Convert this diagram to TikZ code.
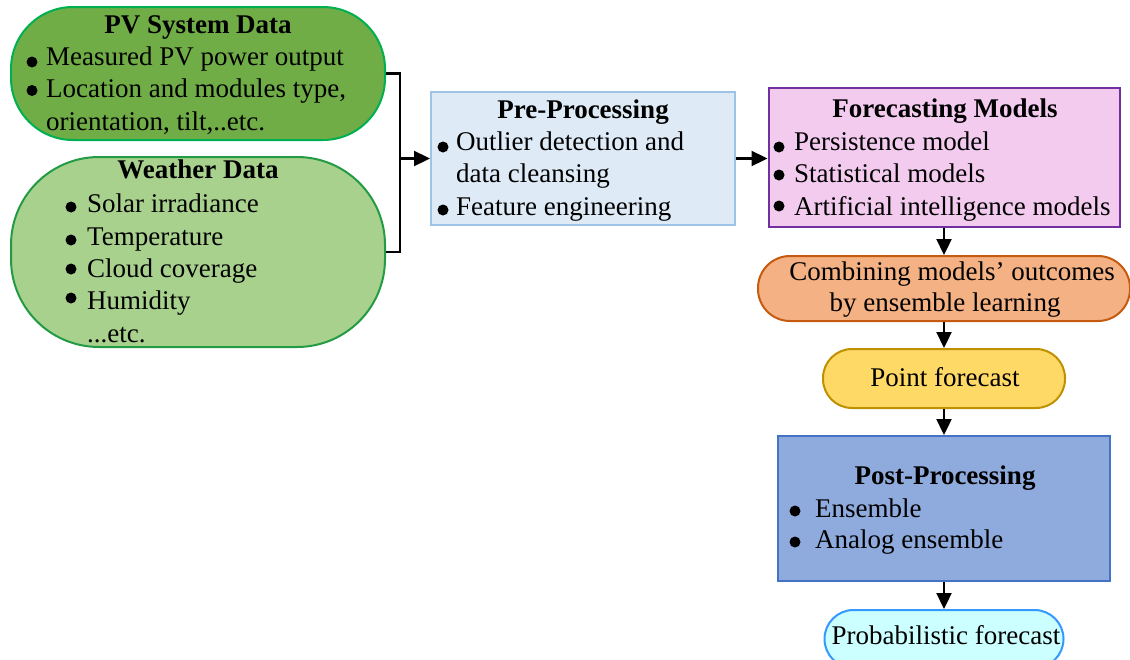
\documentclass[tikz,border=0pt]{standalone}
\usepackage{fontspec}
\setmainfont{Liberation Serif}
\usetikzlibrary{arrows.meta}
\definecolor{pvfill}{HTML}{70AD47}
\definecolor{pvdraw}{HTML}{00B050}
\definecolor{wxfill}{HTML}{A9D18E}
\definecolor{wxdraw}{HTML}{239B44}
\definecolor{prefill}{HTML}{DEEBF7}
\definecolor{predraw}{HTML}{9DC3E6}
\definecolor{fcfill}{HTML}{F3CBEF}
\definecolor{fcdraw}{HTML}{7030A0}
\definecolor{cbfill}{HTML}{F4B183}
\definecolor{cbdraw}{HTML}{C55A11}
\definecolor{ptfill}{HTML}{FFD966}
\definecolor{ptdraw}{HTML}{BF9000}
\definecolor{psfill}{HTML}{8FAADC}
\definecolor{psdraw}{HTML}{4472C4}
\definecolor{prfill}{HTML}{CCFFFF}
\definecolor{prdraw}{HTML}{3399FF}
\tikzset{
  box/.style={draw, line width=2pt, inner sep=0pt},
  tl/.style={anchor=base west, inner sep=0pt, font=\fontsize{27}{32}\selectfont},
  tc/.style={anchor=base, inner sep=0pt, font=\fontsize{27}{32}\selectfont},
  ttl/.style={anchor=base, inner sep=0pt, font=\fontsize{27}{32}\selectfont\bfseries},
  bul/.style={circle, fill=black, minimum size=11pt, inner sep=0pt},
  link/.style={line width=2.3pt, draw=black},
  arr/.style={line width=2.3pt, draw=black, -{Triangle[length=16pt, width=15pt]}}
}
\begin{document}
\begin{tikzpicture}[x=1pt, y=-1pt]
\useasboundingbox (0,0) rectangle (1130,659);
% boxes
\node[box, fill=pvfill, draw=pvdraw, minimum width=374pt, minimum height=133pt, rounded corners=62pt] (pv) at (198,73.5) {};
\node[box, fill=wxfill, draw=wxdraw, minimum width=374pt, minimum height=190pt, rounded corners=88pt] (wx) at (198,252) {};
\node[box, fill=prefill, draw=predraw, minimum width=304pt, minimum height=133pt] (pre) at (583,158.5) {};
\node[box, fill=fcfill, draw=fcdraw, minimum width=351pt, minimum height=139pt] (fc) at (944,157.5) {};
\node[box, fill=cbfill, draw=cbdraw, minimum width=372pt, minimum height=65pt, rounded corners=32pt] (cb) at (944,288.5) {};
\node[box, fill=ptfill, draw=ptdraw, minimum width=242pt, minimum height=59pt, rounded corners=29pt] (pt) at (944,378.5) {};
\node[box, fill=psfill, draw=psdraw, minimum width=332pt, minimum height=145pt] (ps) at (944,508.5) {};
\node[box, fill=prfill, draw=prdraw, minimum width=239pt, minimum height=58pt, rounded corners=29pt] (pr) at (944,639) {};
% PV text
\node[ttl] (pvt) at (198,33) {PV System Data};
\node[bul] (pvb1) at (32,62) {};
\node[bul] (pvb2) at (32,90.5) {};
\node[tl] (pv1) at (46,65) {Measured PV power output};
\node[tl] (pv2) at (46,97) {Location and modules type,};
\node[tl] (pv3) at (46,130) {orientation, tilt,..etc.};
% Weather text
\node[ttl] (wxt) at (198,178) {Weather Data};
\node[bul] (wxb1) at (71,207) {};
\node[bul] (wxb2) at (71,240) {};
\node[bul] (wxb3) at (71,269) {};
\node[bul] (wxb4) at (71,298) {};
\node[tl] (wx1) at (87,212) {Solar irradiance};
\node[tl] (wx2) at (87,245) {Temperature};
\node[tl] (wx3) at (87,277) {Cloud coverage};
\node[tl] (wx4) at (87,309) {Humidity};
\node[tl] (wx5) at (87,342) {...etc.};
% Pre-processing text
\node[ttl] (pret) at (583,118) {Pre-Processing};
\node[bul] (preb1) at (443,147) {};
\node[bul] (preb2) at (443,210) {};
\node[tl] (pre1) at (456,150) {Outlier detection and};
\node[tl] (pre2) at (456,182) {data cleansing};
\node[tl] (pre3) at (456,215) {Feature engineering};
% Forecasting text
\node[ttl] (fct) at (945,117) {Forecasting Models};
\node[bul] (fcb1) at (779,147) {};
\node[bul] (fcb2) at (779,175) {};
\node[bul] (fcb3) at (779,206) {};
\node[tl] (fc1) at (794,150) {Persistence model};
\node[tl] (fc2) at (794,182) {Statistical models};
\node[tl] (fc3) at (794,215) {Artificial intelligence models};
% Combining text
\node[tc] (cb1) at (952,280) {Combining models’ outcomes};
\node[tc] (cb2) at (945,311) {by ensemble learning};
% Point
\node[tc] (ptt) at (945,386) {Point forecast};
% Post-processing text
\node[ttl] (pst) at (945,484) {Post-Processing};
\node[bul] (psb1) at (795,511) {};
\node[bul] (psb2) at (795,542) {};
\node[tl] (ps1) at (815,517) {Ensemble};
\node[tl] (ps2) at (815,548) {Analog ensemble};
% Probabilistic
\node[tc] (prt) at (946,644) {Probabilistic forecast};
% connectors
\coordinate (j) at (400,158.5);
\draw[link] (pv.east) -| (j) |- (wx.east);
\draw[arr] (j) -- (pre.west);
\draw[arr] (pre.east) -- (pre.east -| fc.west);
\draw[arr] (fc.south) -- (cb.north);
\draw[arr] (cb.south) -- (pt.north);
\draw[arr] (pt.south) -- (ps.north);
\draw[arr] (ps.south) -- (pr.north);
\end{tikzpicture}
\end{document}
